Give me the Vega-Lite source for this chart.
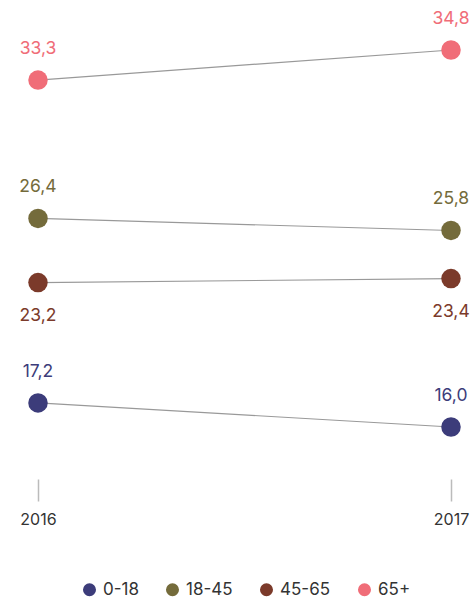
{
  "$schema": "https://vega.github.io/schema/vega-lite/v6.json",
  "width": 413,
  "height": 377,
  "autosize": {"type": "none"},
  "padding": {"left": 38, "top": 50, "right": 24, "bottom": 175},
  "background": "white",
  "config": {
    "view": {"stroke": null},
    "font": "Inter",
    "locale": {"number": {"decimal": ",", "thousands": ".", "grouping": [3], "currency": ["", " €"]}}
  },
  "data": {
    "values": [
      {"year": "2016", "group": "0-18", "value": 17.2},
      {"year": "2017", "group": "0-18", "value": 16.0},
      {"year": "2016", "group": "18-45", "value": 26.4},
      {"year": "2017", "group": "18-45", "value": 25.8},
      {"year": "2016", "group": "45-65", "value": 23.2},
      {"year": "2017", "group": "45-65", "value": 23.4},
      {"year": "2016", "group": "65+", "value": 33.3},
      {"year": "2017", "group": "65+", "value": 34.8}
    ]
  },
  "encoding": {
    "x": {
      "field": "year", "type": "ordinal",
      "scale": {"type": "point", "padding": 0},
      "axis": {"title": null, "domain": false, "offset": 52, "tickSize": 22, "tickColor": "#bbbbbb", "tickWidth": 1.5, "labelAngle": 0, "labelPadding": 10, "labelFontSize": 16, "labelColor": "#333333", "labelFont": "Inter"}
    },
    "y": {
      "field": "value", "type": "quantitative",
      "scale": {"domain": [16, 34.8], "zero": false, "nice": false},
      "axis": null
    }
  },
  "layer": [
    {
      "mark": {"type": "line", "color": "#999999", "strokeWidth": 1.2},
      "encoding": {"detail": {"field": "group"}}
    },
    {
      "mark": {"type": "circle", "opacity": 1, "size": 380},
      "encoding": {
        "color": {
          "field": "group", "type": "nominal",
          "scale": {"domain": ["0-18", "18-45", "45-65", "65+"], "range": ["#3c3c7a", "#746b3b", "#7b3a2a", "#f06d78"]},
          "legend": {
            "title": null, "orient": "none", "direction": "horizontal",
            "legendX": 43, "legendY": 531,
            "symbolType": "circle", "symbolSize": 170, "symbolOpacity": 1,
            "labelFontSize": 17, "labelColor": "#333333", "labelFont": "Inter",
            "columnPadding": 25, "symbolOffset": 0, "labelOffset": 5
          }
        }
      }
    },
    {
      "transform": [{"filter": "datum.group != '45-65'"}],
      "mark": {"type": "text", "dy": -31, "fontSize": 17.5, "baseline": "middle", "align": "center"},
      "encoding": {
        "text": {"field": "value", "type": "quantitative", "format": ".1f"},
        "color": {"field": "group", "type": "nominal", "legend": null}
      }
    },
    {
      "transform": [{"filter": "datum.group == '45-65'"}],
      "mark": {"type": "text", "dy": 33, "fontSize": 17.5, "baseline": "middle", "align": "center"},
      "encoding": {
        "text": {"field": "value", "type": "quantitative", "format": ".1f"},
        "color": {"field": "group", "type": "nominal", "legend": null}
      }
    }
  ]
}
